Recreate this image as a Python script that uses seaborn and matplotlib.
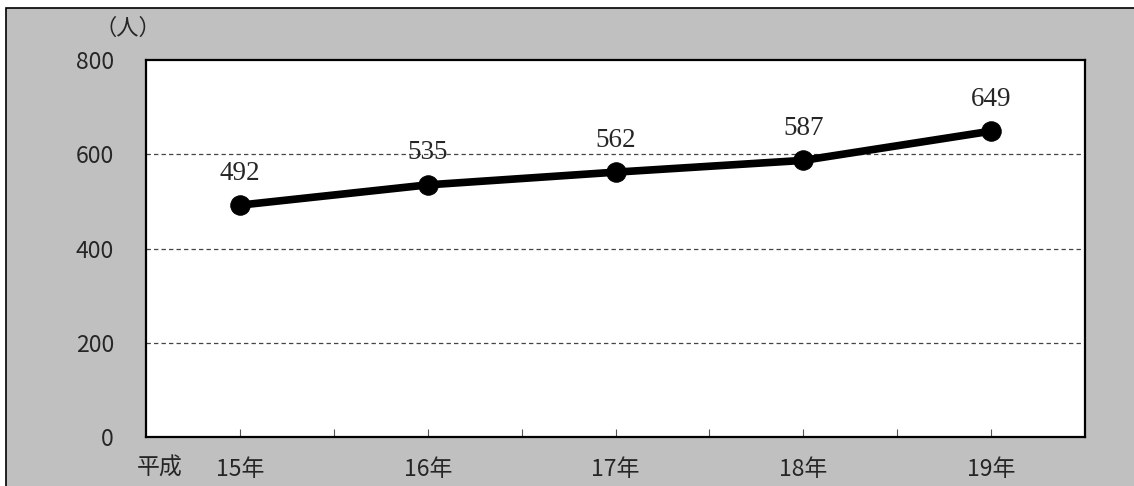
import matplotlib
matplotlib.use("Agg")
import matplotlib.pyplot as plt
import matplotlib.patches as mpatches
import seaborn as sns
import pandas as pd

years = ["15年", "16年", "17年", "18年", "19年"]
people = [492, 535, 562, 587, 649]
y_ticks = [0, 200, 400, 600, 800]

sns.set_style("white")
plt.rcParams["font.family"] = ["Noto Sans CJK JP", "DejaVu Sans"]

W, H = 1134, 486
fig = plt.figure(figsize=(W / 100, H / 100), dpi=100)
fig.patch.set_facecolor("white")

# gray chart frame (open to the right and bottom edges)
frame = mpatches.Rectangle((6 / W, -0.05), 1.1, 1 - 8 / H + 0.05,
                           transform=fig.transFigure, facecolor="#c0c0c0",
                           edgecolor="black", linewidth=1.2, zorder=-5)
fig.patches.append(frame)

ax = fig.add_axes([146 / W, 1 - 437 / H, (1085 - 146) / W, (437 - 60) / H])
ax.set_facecolor("white")

df = pd.DataFrame({"x": range(len(years)), "人数": people})
sns.lineplot(data=df, x="x", y="人数", ax=ax, color="black", linewidth=5.5,
             marker="o", markersize=14, markeredgecolor="black",
             markerfacecolor="black", zorder=3)

ax.set_xlim(-0.5, len(years) - 0.5)
ax.set_ylim(0, 800)
ax.set_yticks(y_ticks)
ax.set_yticklabels([str(v) for v in y_ticks], fontsize=16.5)
for v in y_ticks[1:-1]:
    ax.axhline(v, color="#444444", linestyle=(0, (3.5, 2.5)), linewidth=0.9, zorder=1)

# tick marks at category centres and boundaries
minor = [i + 0.5 for i in range(len(years) - 1)]
ax.set_xticks(range(len(years)))
ax.set_xticklabels(years, fontsize=16.5)
ax.set_xticks(minor, minor=True)
ax.tick_params(axis="x", which="both", direction="in", length=6, width=0.8,
               color="#555555", pad=15, bottom=True)
ax.tick_params(axis="y", length=0, pad=23)
ax.set_xlabel("")
ax.set_ylabel("")

for s in ax.spines.values():
    s.set_color("black")
    s.set_linewidth(1.6)

for i, v in enumerate(people):
    ax.annotate(str(v), (i, v), xytext=(0, 14), textcoords="offset points",
                ha="center", va="bottom", fontsize=19.5,
                family=["Liberation Serif", "DejaVu Serif"])

fig.text(160 / W, 1 - 468 / H, "平成", ha="center", va="center", fontsize=16.5)
fig.text(128 / W, 1 - 28 / H, "（人）", ha="center", va="center", fontsize=16)

fig.savefig("out.png", dpi=100, facecolor=fig.get_facecolor())
